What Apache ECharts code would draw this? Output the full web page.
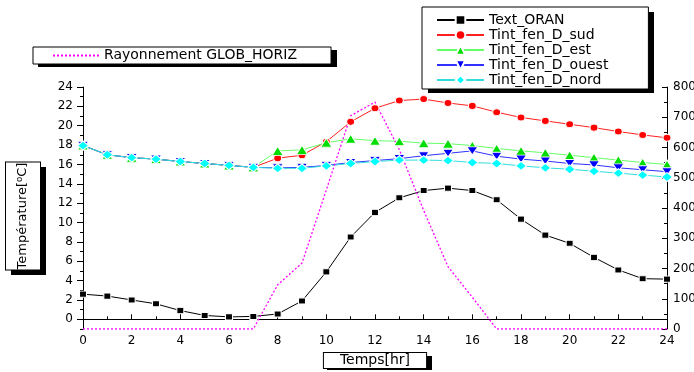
<!DOCTYPE html>
<html>
<head>
<meta charset="utf-8">
<script src="https://cdn.jsdelivr.net/npm/echarts@6/dist/echarts.min.js"></script>
<style>html,body{margin:0;padding:0;background:#fff;}#c{width:694px;height:372px;}</style>
</head>
<body>
<div id="c"></div>
<script>
const hours = [0,1,2,3,4,5,6,7,8,9,10,11,12,13,14,15,16,17,18,19,20,21,22,23,24];
const textOran = [2.6,2.4,2.0,1.6,0.9,0.4,0.25,0.3,0.55,1.9,4.9,8.5,11.05,12.55,13.3,13.55,13.3,12.35,10.35,8.7,7.85,6.4,5.1,4.2,4.15];
const tintSud = [17.95,17.0,16.7,16.55,16.3,16.1,15.9,15.7,16.65,16.95,18.35,20.4,21.8,22.6,22.75,22.35,22.05,21.4,20.85,20.5,20.15,19.8,19.4,19.05,18.75];
const tintEst = [17.95,17.0,16.7,16.55,16.3,16.1,15.9,15.7,17.4,17.5,18.25,18.65,18.45,18.4,18.2,18.15,17.95,17.65,17.4,17.2,16.95,16.7,16.45,16.2,16.0];
const tintOuest = [17.95,17.0,16.7,16.55,16.3,16.1,15.9,15.7,15.65,15.7,15.9,16.2,16.4,16.6,16.9,17.15,17.4,16.85,16.55,16.35,16.1,15.95,15.65,15.45,15.25];
const tintNord = [17.95,17.0,16.7,16.55,16.3,16.1,15.9,15.7,15.6,15.6,15.85,16.1,16.3,16.45,16.45,16.4,16.2,16.1,15.85,15.65,15.5,15.3,15.1,14.9,14.7];
const rayonnement = [0,0,0,0,0,0,0,0,146,218,460,705,750,593,392,206,105,0,0,0,0,0,0,0,0];
const leftLabels = [0,2,4,6,8,10,12,14,16,18,20,22,24];
const leftMinor = [-1,1,3,5,7,9,11,13,15,17,19,21,23];

const FONT = 'DejaVu Sans';
const pairs = arr => hours.map((h, i) => [h, arr[i]]);

const chart = echarts.init(document.getElementById('c'));
function mk(name, data, color, lineColor, symbol, size, rotate) {
  return {
    name, type: 'line', data: pairs(data), yAxisIndex: 0,
    symbol, symbolSize: size, symbolRotate: rotate || 0,
    itemStyle: { color, borderColor: '#fff', borderWidth: 1 },
    lineStyle: { color: lineColor, width: 1 },
    emphasis: { disabled: true }
  };
}
function shadowRect(x, y, w, h) {
  return { type: 'rect', shape: { x, y, width: w, height: h }, style: { fill: '#000' }, z: 0, silent: true };
}
chart.setOption({
  animation: false,
  backgroundColor: '#fff',
  grid: { left: 83, right: 27, top: 87, bottom: 43, containLabel: false, outerBoundsMode: 'none' },
  xAxis: {
    type: 'value', min: 0, max: 24, interval: 2,
    axisLine: { lineStyle: { color: '#000', width: 1 } },
    axisTick: { inside: true, length: 5, lineStyle: { color: '#000' } },
    minorTick: { show: true, splitNumber: 2, length: 3, lineStyle: { color: '#000' } },
    splitLine: { show: false },
    axisLabel: { color: '#000', fontFamily: FONT, fontSize: 12, margin: 6 },
    name: 'Temps[hr]', nameLocation: 'middle', nameGap: 24,
    nameTextStyle: {
      color: '#000', fontFamily: FONT, fontSize: 14, lineHeight: 15,
      backgroundColor: '#fff', borderColor: '#000', borderWidth: 1,
      padding: [0, 16, 0, 16]
    }
  },
  yAxis: [
    {
      type: 'value', min: -1, max: 24, interval: 1, position: 'left',
      axisLine: { show: true, lineStyle: { color: '#000', width: 1 } },
      axisTick: { show: true, inside: false, length: 6, customValues: leftLabels, lineStyle: { color: '#000' } },
      splitLine: { show: false },
      axisLabel: { color: '#000', fontFamily: FONT, fontSize: 12, margin: 10, customValues: leftLabels }
    },
    {
      type: 'value', min: -1, max: 24, interval: 1, position: 'left',
      axisLine: { show: false },
      axisTick: { show: true, inside: false, length: 3, customValues: leftMinor, lineStyle: { color: '#000' } },
      splitLine: { show: false },
      axisLabel: { show: false }
    },
    {
      type: 'value', min: 0, max: 800, interval: 100, position: 'right',
      axisLine: { show: true, lineStyle: { color: '#000', width: 1 } },
      axisTick: { show: true, inside: true, length: 5, lineStyle: { color: '#000' } },
      minorTick: { show: true, splitNumber: 2, length: 3, lineStyle: { color: '#000' } },
      splitLine: { show: false },
      axisLabel: { color: '#000', fontFamily: FONT, fontSize: 12, margin: 6 }
    }
  ],
  legend: [
    {
      data: ['Text_ORAN', 'Tint_fen_D_sud', 'Tint_fen_D_est', 'Tint_fen_D_ouest', 'Tint_fen_D_nord'],
      orient: 'vertical', left: 422, top: 7,
      itemWidth: 47, itemHeight: 12, itemGap: 0,
      padding: [5.5, 40, 1.5, 14],
      backgroundColor: '#fff', borderColor: '#000', borderWidth: 1,
      textStyle: { color: '#000', fontFamily: FONT, fontSize: 14, lineHeight: 15 },
      selectedMode: false, z: 5
    },
    {
      data: ['Rayonnement GLOB_HORIZ'],
      orient: 'horizontal', left: 33, top: 47,
      itemWidth: 46, itemHeight: 10,
      padding: [1, 34, 1, 19],
      backgroundColor: '#fff', borderColor: '#000', borderWidth: 1,
      itemStyle: { color: 'rgba(0,0,0,0)', borderWidth: 0 },
      textStyle: { color: '#000', fontFamily: FONT, fontSize: 14, lineHeight: 15 },
      selectedMode: false, z: 5
    }
  ],
  graphic: [
    shadowRect(428, 12, 226, 81),
    shadowRect(38, 50, 299, 17),
    shadowRect(11, 167, 35, 108),
    shadowRect(327, 356, 105, 14),
    {
      type: 'text', x: 23, y: 216, rotation: Math.PI / 2, z: 10,
      style: {
        text: 'Température[⁰C]', font: '13px "DejaVu Sans"', fill: '#000',
        align: 'center', verticalAlign: 'middle',
        backgroundColor: '#fff', borderColor: '#000', borderWidth: 1,
        padding: [9, 0, 9, 0], lineHeight: 16
      }
    }
  ],
  series: [
    mk('Text_ORAN', textOran, '#000', '#000', 'rect', [7, 6]),
    mk('Tint_fen_D_sud', tintSud, '#ff0000', '#ff2020', 'circle', [8, 7]),
    mk('Tint_fen_D_est', tintEst, '#00dd00', '#66ff66', 'triangle', [11, 9]),
    mk('Tint_fen_D_ouest', tintOuest, '#0000ff', '#3030ff', 'triangle', [11, 8], 180),
    mk('Tint_fen_D_nord', tintNord, '#00ffff', '#33dddd', 'diamond', [11, 9]),
    {
      name: 'Rayonnement GLOB_HORIZ', type: 'line', yAxisIndex: 2, data: pairs(rayonnement),
      symbol: 'none', itemStyle: { color: '#ff00ff' },
      lineStyle: { color: '#ff00ff', width: 1.3, type: [2, 2] },
      emphasis: { disabled: true }, z: 3
    }
  ]
});
</script>
</body>
</html>
